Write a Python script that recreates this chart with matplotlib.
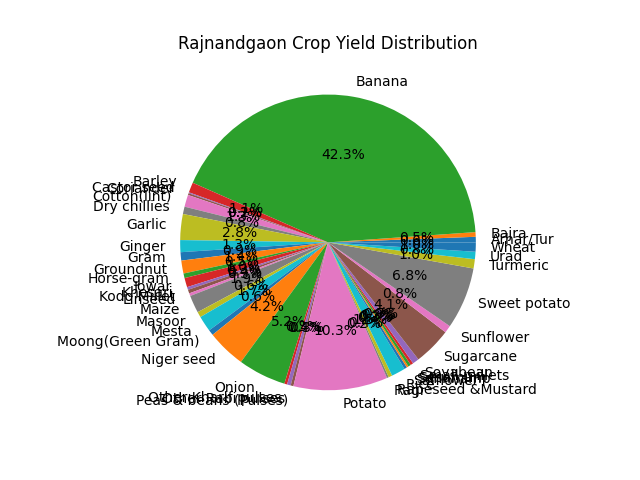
import matplotlib
matplotlib.use('Agg')
import matplotlib.pyplot as plt

crops = ['Arhar/Tur', 'Bajra', 'Banana', 'Barley', 'Castor seed', 'Coriander',
	'Cotton(lint)', 'Dry chillies', 'Garlic', 'Ginger', 'Gram', 'Groundnut',
	'Horse-gram', 'Jowar', 'Khesari', 'Kodo Millet', 'Linseed', 'Maize', 'Masoor',
	'Mesta', 'Moong(Green Gram)', 'Niger seed', 'Onion', 'Other Kharif pulses',
	'Other Rabi pulses', 'Peas & beans (Pulses)', 'Potato', 'Ragi',
	'Rapeseed &Mustard', 'Rice', 'Safflower', 'Sannhamp', 'Sesamum',
	'Small millets', 'Soyabean', 'Sugarcane', 'Sunflower', 'Sweet potato',
	'Turmeric', 'Urad', 'Wheat']
yields = [0.6, 0.5, 41.9, 1.1, 0.1, 0.2,
	1.3, 0.8, 2.8, 1.3, 0.9, 1.4,
	0.5, 1.0, 0.3, 0.4, 0.3, 1.9, 0.6,
	1.7, 0.6, 4.2, 5.2, 0.3,
	0.4, 0.3, 10.2, 0.2,
	0.4, 1.5, 0.3, 0.2, 0.3,
	0.3, 0.7, 4.1, 0.8, 6.7,
	1.0, 0.8, 1.0]

fig, ax = plt.subplots(figsize=(6.4, 4.8), dpi=100)
ax.pie(yields, labels=crops, autopct='%1.1f%%')
ax.set_title('Rajnandgaon Crop Yield Distribution')
plt.savefig('out.png')
